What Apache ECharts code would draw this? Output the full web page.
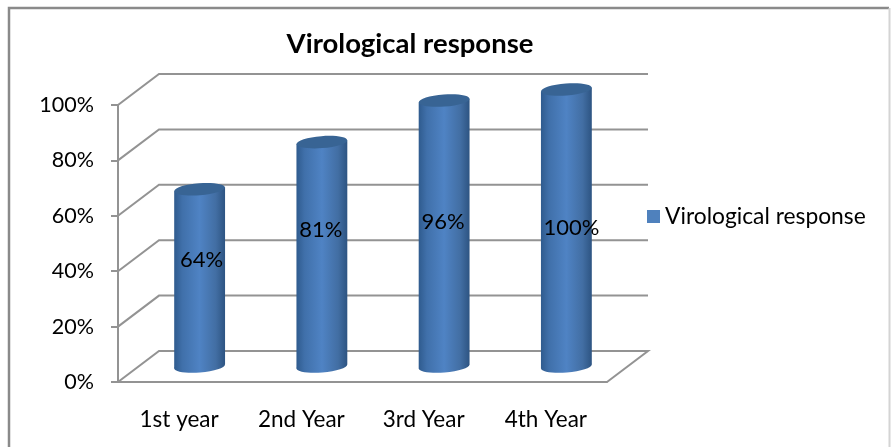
<!DOCTYPE html>
<html>
<head>
<meta charset="utf-8">
<style>
    html, body { margin: 0; padding: 0; background: #fff; }
    #chart { width: 891px; height: 447px; }
</style>
<script src="https://cdn.jsdelivr.net/npm/echarts@6/dist/echarts.min.js"></script>
</head>
<body>
<div id="chart"></div>
<script>
const categories = ["1st year", "2nd Year", "3rd Year", "4th Year"];
const responseValues = [64, 81, 96, 100];
const wallTicks = [0, 20, 40, 60, 80, 100];

// fake 3d: how far the back wall sits from the front plane, in px
const depthX = 41;
const depthY = -31;
// the data labels were placed by hand in the original
const labelNudge = [[2, -18], [-1, -24], [-1, -12], [5, 0]];

const fontName = "Lato, 'Noto Sans', sans-serif";
const lineColor = "#939393";

const chart = echarts.init(document.getElementById("chart"));

// gridlines running along the floor/left wall and then the back wall
function renderWall(params, api) {
    const left = api.coord([0, api.value(0)]);
    const size = params.coordSys;
    const y = left[1];
    const x0 = size.x;
    const x1 = size.x + size.width;
    const isFloor = api.value(0) === 0;
    const points = [
        [x0, y],
        [x0 + depthX, y + depthY],
        [x1 + depthX, y + depthY],
    ];
    if (isFloor) {
        points.push([x1, y]);
    }
    return {
        type: "polyline",
        shape: { points: points },
        style: { fill: "none", stroke: lineColor, lineWidth: 2 },
    };
}

function renderCylinder(params, api) {
    const idx = api.value(0);
    const top = api.coord([idx, api.value(1)]);
    const base = api.coord([idx, 0]);
    const rx = api.size([1, 0])[0] * 0.208;
    const ry = 6;
    const tilt = 0.075;
    const cx = top[0] + depthX / 2;
    const topY = top[1] + depthY / 2;
    const baseY = base[1] + depthY / 2;
    const rise = rx * Math.sin(tilt);
    const shade = {
        type: "linear", x: 0, y: 0, x2: 1, y2: 0,
        colorStops: [
            { offset: 0, color: "#2f5b8e" },
            { offset: 0.16, color: "#4070aa" },
            { offset: 0.5, color: "#4f83c4" },
            { offset: 0.82, color: "#426ea3" },
            { offset: 1, color: "#2d5482" },
        ],
    };
    const nudge = labelNudge[idx];
    return {
        type: "group",
        children: [
            {
                type: "ellipse",
                shape: { cx: cx, cy: baseY, rx: rx, ry: ry },
                originX: cx, originY: baseY, rotation: tilt,
                style: { fill: shade },
            },
            {
                type: "polygon",
                shape: {
                    points: [
                        [cx - rx, topY + rise],
                        [cx + rx, topY - rise],
                        [cx + rx, baseY - rise],
                        [cx - rx, baseY + rise],
                    ],
                },
                style: { fill: shade },
            },
            {
                type: "ellipse",
                shape: { cx: cx, cy: topY, rx: rx, ry: ry },
                originX: cx, originY: topY, rotation: tilt,
                style: { fill: "#386494" },
            },
            {
                type: "text",
                style: {
                    x: cx + nudge[0],
                    y: (topY + baseY) / 2 + nudge[1],
                    text: api.value(1) + "%",
                    fill: "#000",
                    font: "22px " + fontName,
                    align: "center",
                    verticalAlign: "middle",
                },
            },
        ],
    };
}

chart.setOption({
    animation: false,
    backgroundColor: "#fff",
    textStyle: { fontFamily: fontName },
    title: {
        text: "Virological response",
        left: 405,
        top: 25,
        textAlign: "center",
        textStyle: { fontFamily: fontName, fontSize: 27.5, fontWeight: "bold", color: "#000" },
    },
    legend: {
        left: 642,
        top: 200,
        data: ["Virological response"],
        icon: "rect",
        itemWidth: 13,
        itemHeight: 13,
        itemGap: 6,
        textStyle: { fontFamily: fontName, fontSize: 22.8, color: "#000" },
    },
    grid: { left: 118, right: 284, top: 105, bottom: 65 },
    xAxis: {
        type: "category",
        data: categories,
        axisLine: { lineStyle: { color: lineColor, width: 2 } },
        axisTick: { length: 7, lineStyle: { color: lineColor, width: 2 } },
        axisLabel: { color: "#000", fontSize: 22.5, margin: 26 },
    },
    yAxis: {
        type: "value",
        min: 0,
        max: 100,
        interval: 20,
        splitLine: { show: false },
        axisLine: { show: true, lineStyle: { color: lineColor, width: 2 } },
        axisTick: { show: true, length: 7, lineStyle: { color: lineColor, width: 2 } },
        axisLabel: { color: "#000", fontSize: 21.5, margin: 24, formatter: "{value}%" },
    },
    series: [
        {
            type: "custom",
            name: "walls",
            silent: true,
            z: 1,
            renderItem: renderWall,
            data: wallTicks.map((t) => [t]),
            encode: { y: 0 },
        },
        {
            type: "custom",
            name: "Virological response",
            z: 2,
            itemStyle: { color: "#4f81bd" },
            renderItem: renderCylinder,
            data: responseValues.map((v, i) => [i, v]),
            encode: { x: 0, y: 1 },
        },
    ],
    graphic: [
        {
            type: "polyline",
            silent: true,
            shape: { points: [[9, 447], [9, 8], [889, 8]] },
            style: { fill: "none", stroke: "#8a8a8a", lineWidth: 2.5 },
        },
        {
            type: "line",
            silent: true,
            shape: { x1: 889.5, y1: 8, x2: 889.5, y2: 447 },
            style: { stroke: "#d4d4d4", lineWidth: 2 },
        },
    ],
});
</script>
</body>
</html>
